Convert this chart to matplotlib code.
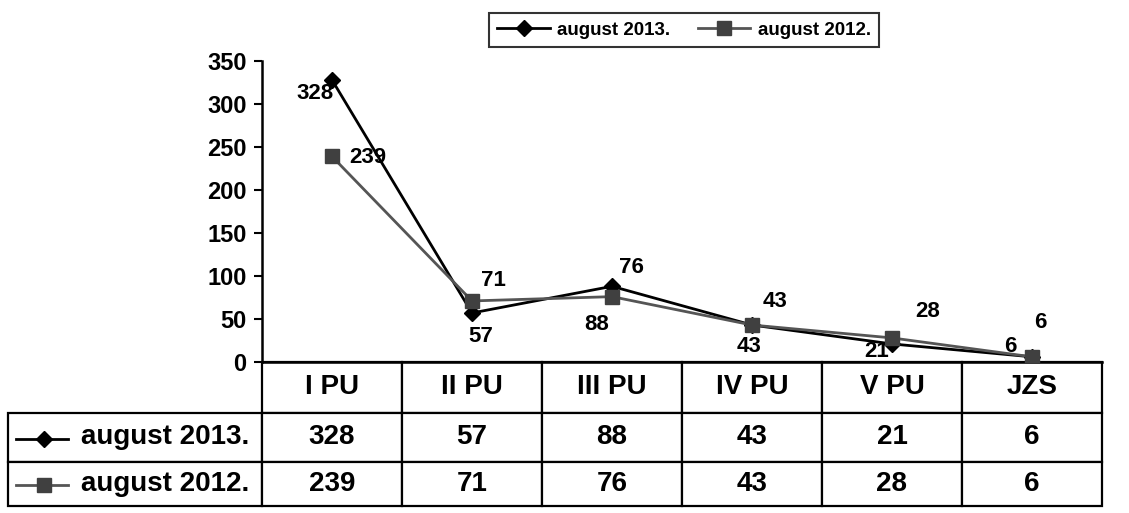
import numpy as np
import matplotlib.pyplot as plt
from matplotlib.lines import Line2D

plt.rcParams['font.family'] = ['Liberation Sans', 'DejaVu Sans']
plt.rcParams['font.weight'] = 'bold'

# ---- data ----
categories = ["I PU", "II PU", "III PU", "IV PU", "V PU", "JZS"]
aug_2013 = [328, 57, 88, 43, 21, 6]
aug_2012 = [239, 71, 76, 43, 28, 6]
series_names = ["august 2013.", "august 2012."]
y_ticks = [0, 50, 100, 150, 200, 250, 300, 350]

# label offsets (pixels) as placed in the original
off_2013 = [(-17, -14), (9, -24), (-15, -38), (-3, -21), (-15, -8), (-22, 10)]
off_2012 = [(36, -1), (21, 20), (19, 29), (23, 24), (36, 26), (8, 34)]

c13 = "black"
c12 = "#404040"
kw13 = dict(color=c13, linewidth=2, marker="D", markersize=8, markerfacecolor=c13, markeredgecolor=c13)
kw12 = dict(color="#555555", linewidth=2, marker="s", markersize=10, markerfacecolor=c12, markeredgecolor=c12)

W, H = 1129, 513
AX_W, AX_H = 840, 301  # axes size in pixels
fig = plt.figure(figsize=(W / 100, H / 100), dpi=100)
ax = fig.add_axes([262 / W, (H - 362) / H, AX_W / W, AX_H / H])

x = np.arange(len(categories))
ax.plot(x, aug_2013, zorder=3, **kw13)
ax.plot(x, aug_2012, zorder=4, **kw12)

for xi, v, off in zip(x, aug_2013, off_2013):
    ax.annotate(str(v), (xi, v), xytext=off, textcoords="offset pixels",
                ha="center", va="center", fontsize=16, fontweight="bold", zorder=5)
for xi, v, off in zip(x, aug_2012, off_2012):
    ax.annotate(str(v), (xi, v), xytext=off, textcoords="offset pixels",
                ha="center", va="center", fontsize=16, fontweight="bold", zorder=5)

ax.set_xlim(-0.5, len(categories) - 0.5)
ax.set_ylim(0, 350)
ax.set_yticks(y_ticks)
ax.set_xticks([])
ax.tick_params(axis="y", direction="out", length=6, width=1.5, labelsize=17, pad=5)
for lbl in ax.get_yticklabels():
    lbl.set_fontweight("bold")
for s in ["top", "right"]:
    ax.spines[s].set_visible(False)
ax.spines["left"].set_linewidth(1.8)
ax.spines["bottom"].set_linewidth(1.8)

# ---- data table under the plot ----
cell_text = [[str(v) for v in aug_2013], [str(v) for v in aug_2012]]
tab = ax.table(cellText=cell_text, colLabels=categories, cellLoc="center", loc="bottom")
row_h = {0: 51, 1: 49, 2: 44}
for i, name in enumerate(series_names):
    tab.add_cell(i + 1, -1, width=254 / AX_W, height=row_h[i + 1] / AX_H,
                 text=name, loc="right")
tab.auto_set_font_size(False)
tab.set_fontsize(20)
for (r, c), cell in tab.get_celld().items():
    cell.set_linewidth(1.6)
    cell.set_height(row_h[r] / AX_H)
    cell.set_width((254 if c == -1 else 140) / AX_W)
    cell.get_text().set_fontweight("bold")
    if c == -1:
        cell.PAD = 0.05

# legend keys drawn inside the row-label cells
for yrow, kw in [((362 - 439) / AX_H, kw13), ((362 - 485) / AX_H, kw12)]:
    ax.add_line(Line2D([(16 - 262) / AX_W, (68 - 262) / AX_W], [yrow, yrow],
                       transform=ax.transAxes, clip_on=False, **kw, markevery=[]))
    ax.add_line(Line2D([(44 - 262) / AX_W], [yrow], transform=ax.transAxes,
                       clip_on=False, **kw))

# ---- legend on top ----
handles = [Line2D([], [], **kw13), Line2D([], [], **kw12)]
leg = fig.legend(handles, series_names, loc="center", ncol=2,
                 bbox_to_anchor=(684 / W, 1 - 30 / H), frameon=True, fancybox=False,
                 prop=dict(size=13.5, weight="bold"), handlelength=2.8, handletextpad=0.4,
                 columnspacing=1.45, borderpad=0.45)
leg.get_frame().set_edgecolor("black")
leg.get_frame().set_linewidth(1.5)

fig.savefig("out.png", dpi=100)
